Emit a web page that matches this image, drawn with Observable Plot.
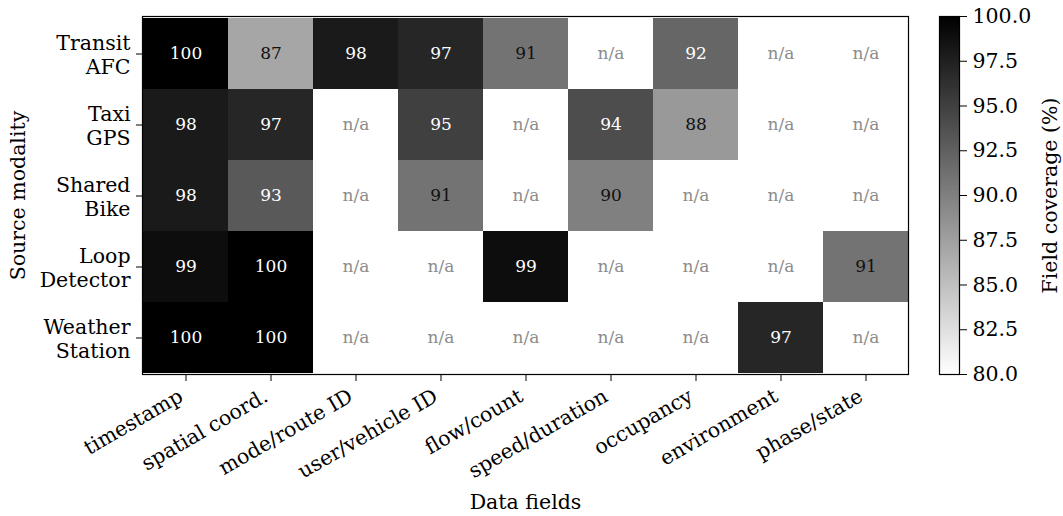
<!DOCTYPE html>
<html>
<head>
<meta charset="utf-8">
<script src="https://cdn.jsdelivr.net/npm/d3@7"></script>
<script src="https://cdn.jsdelivr.net/npm/@observablehq/plot@0.6"></script>
<style>
  html, body { margin: 0; padding: 0; background: white; }
  #wrap { position: relative; width: 1063px; height: 516px; }
  #wrap svg { position: absolute; left: 0; top: 0; }
</style>
</head>
<body>
<div id="wrap"></div>
<script>
const fields = ["timestamp", "spatial coord.", "mode/route ID", "user/vehicle ID", "flow/count", "speed/duration", "occupancy", "environment", "phase/state"];
const sources = ["Transit AFC", "Taxi GPS", "Shared Bike", "Loop Detector", "Weather Station"];
const transitAFC     = [100, 87, 98, 97, 91, null, 92, null, null];
const taxiGPS        = [98, 97, null, 95, null, 94, 88, null, null];
const sharedBike     = [98, 93, null, 91, null, 90, null, null, null];
const loopDetector   = [99, 100, null, null, 99, null, null, null, 91];
const weatherStation = [100, 100, null, null, null, null, null, 97, null];
const colorTicks = [80, 82.5, 85, 87.5, 90, 92.5, 95, 97.5, 100];

const rows = [transitAFC, taxiGPS, sharedBike, loopDetector, weatherStation];
const data = [];
rows.forEach((vals, i) => vals.forEach((v, j) => data.push({source: sources[i], field: fields[j], value: v})));

const font = "DejaVu Serif";
const fs = 20.5;
const colorOpts = {type: "linear", domain: [80, 100], range: ["white", "black"], interpolate: "rgb"};

const main = Plot.plot({
  width: 1063, height: 516,
  marginLeft: 142, marginRight: 155, marginTop: 16, marginBottom: 142,
  style: {fontFamily: font, fontSize: fs + "px", background: "transparent", color: "black"},
  x: {domain: fields, padding: 0},
  y: {domain: sources, padding: 0},
  color: colorOpts,
  marks: [
    Plot.frame({fill: "white"}),
    Plot.cell(data.filter(d => d.value != null), {x: "field", y: "source", fill: "value", inset: 0, shapeRendering: "crispEdges"}),
    Plot.text(data.filter(d => d.value == null), {x: "field", y: "source", text: () => "n/a", fill: "#8c8c8c", fontSize: 17}),
    Plot.text(data.filter(d => d.value != null && d.value >= 92), {x: "field", y: "source", text: d => String(d.value), fill: "white", fontSize: 17}),
    Plot.text(data.filter(d => d.value != null && d.value < 92), {x: "field", y: "source", text: d => String(d.value), fill: "#111", fontSize: 17}),
    Plot.frame({stroke: "black", strokeWidth: 1.2}),
    Plot.axisX({tickSize: 7, tickFormat: () => "", label: null}),
    Plot.axisX({tickRotate: -30, tickSize: 0, tickPadding: 11, dx: -5, dy: 9, fontSize: fs, label: null}),
    Plot.axisX({ticks: [], label: "Data fields", labelAnchor: "center", labelOffset: 134, labelArrow: "none", fontSize: fs, tickSize: 0}),
    Plot.axisY({tickSize: 6, tickPadding: 6, fontSize: fs, lineHeight: 1.17, tickFormat: d => d.replace(" ", "\n"), label: "Source modality", labelAnchor: "center", labelOffset: 132, labelArrow: "none"})
  ]
});

const cbar = Plot.plot({
  width: 1063, height: 516,
  marginLeft: 939, marginRight: 104, marginTop: 16, marginBottom: 142,
  style: {fontFamily: font, fontSize: fs + "px", background: "transparent", color: "black"},
  x: {domain: [0, 1], axis: null},
  y: {domain: [80, 100]},
  color: colorOpts,
  marks: [
    Plot.rect(d3.range(80, 100, 0.1), {x1: 0, x2: 1, y1: d => d, y2: d => Math.min(100, d + 0.2), fill: d => d + 0.05, shapeRendering: "crispEdges"}),
    Plot.frame({stroke: "black", strokeWidth: 1.2}),
    Plot.axisY({anchor: "right", ticks: colorTicks, tickFormat: d3.format(".1f"), tickSize: 7, tickPadding: 6, fontSize: fs, label: "Field coverage (%)", labelAnchor: "center", labelOffset: 97, labelArrow: "none"})
  ]
});

const wrap = document.getElementById("wrap");
wrap.appendChild(main);
wrap.appendChild(cbar);
</script>
</body>
</html>
